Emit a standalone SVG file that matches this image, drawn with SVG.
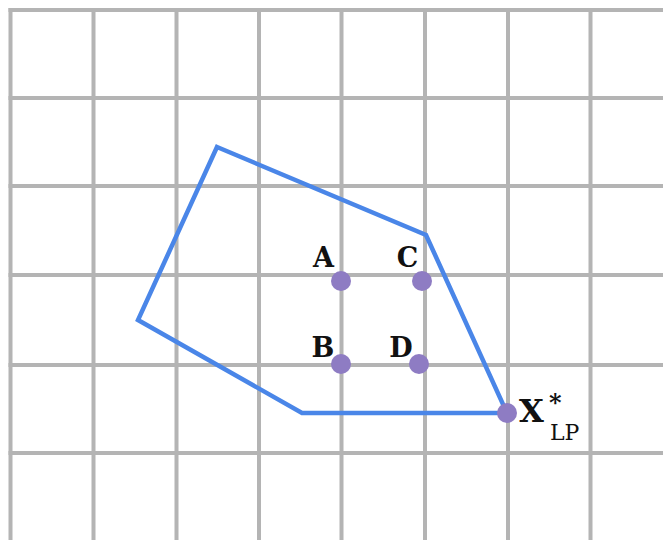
<svg xmlns="http://www.w3.org/2000/svg" width="663" height="540" viewBox="0 0 663 540">
<style>
.grid line{stroke:#b4b4b4;stroke-width:4}
.poly{fill:none;stroke:#4a86e8;stroke-width:4.5;stroke-linejoin:miter}
.pt{fill:#8e7cc3}
.lbl{font-family:"DejaVu Serif","Liberation Serif",serif;font-weight:bold;font-size:27px;fill:#111}
</style>
<rect width="663" height="540" fill="#fff"/>
<g class="grid" id="grid">
<line x1="10.5" y1="8" x2="10.5" y2="540"/>
<line x1="93.5" y1="8" x2="93.5" y2="540"/>
<line x1="176.5" y1="8" x2="176.5" y2="540"/>
<line x1="259" y1="8" x2="259" y2="540"/>
<line x1="341.5" y1="8" x2="341.5" y2="540"/>
<line x1="425" y1="8" x2="425" y2="540"/>
<line x1="508" y1="8" x2="508" y2="540"/>
<line x1="590.5" y1="8" x2="590.5" y2="540"/>
<line x1="8.5" y1="10" x2="663" y2="10"/>
<line x1="8.5" y1="98" x2="663" y2="98"/>
<line x1="8.5" y1="186" x2="663" y2="186"/>
<line x1="8.5" y1="275" x2="663" y2="275"/>
<line x1="8.5" y1="365" x2="663" y2="365"/>
<line x1="8.5" y1="453" x2="663" y2="453"/>
</g>
<g id="connectors">
<polygon class="poly" points="217,147 426,235 507,413 302,413 138,320"/>
</g>
<g id="A"><circle class="pt" cx="341" cy="281" r="10"/><text class="lbl" x="323.5" y="267" text-anchor="middle">A</text></g>
<g id="C"><circle class="pt" cx="422" cy="281" r="10"/><text class="lbl" x="407.5" y="267" text-anchor="middle">C</text></g>
<g id="B"><circle class="pt" cx="341" cy="364" r="10"/><text class="lbl" x="323" y="357" text-anchor="middle">B</text></g>
<g id="D"><circle class="pt" cx="419" cy="364" r="10"/><text class="lbl" x="401" y="357" text-anchor="middle">D</text></g>
<g id="XLP"><circle class="pt" cx="507" cy="413" r="10"/>
<text font-family="DejaVu Serif, Liberation Serif, serif" fill="#111"><tspan x="519" y="422" font-weight="bold" font-size="32">X</tspan><tspan x="549" y="411" font-weight="bold" font-size="24">*</tspan><tspan x="550" y="440" font-size="22">LP</tspan></text>
</g>
</svg>
